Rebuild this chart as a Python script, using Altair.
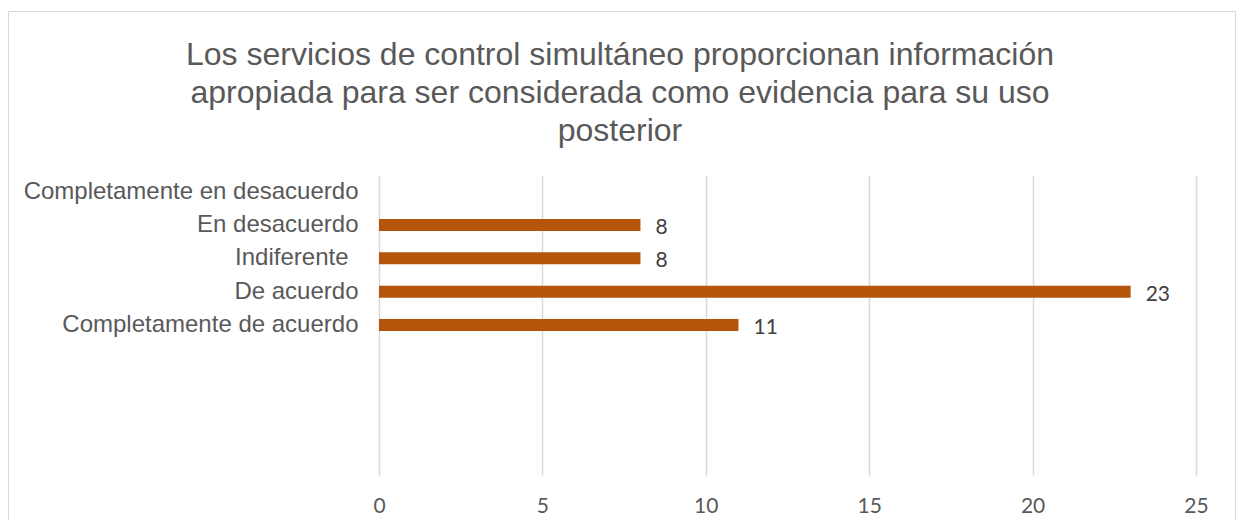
import altair as alt
import pandas as pd

# ---- data ----
categories = [
    "Completamente en desacuerdo",
    "En desacuerdo",
    "Indiferente ",
    "De acuerdo",
    "Completamente de acuerdo",
]
values = [None, 8, 8, 23, 11]
blank_slots = ["_b1", "_b2", "_b3", "_b4"]
x_ticks = [0, 5, 10, 15, 20, 25]
title_lines = [
    "Los servicios de control simultáneo proporcionan información",
    "apropiada para ser considerada como evidencia para su uso",
    "posterior",
]

BAR = "#B5550B"
GRID = "#d9d9d9"
TXT = "#595959"

df = pd.DataFrame({"cat": categories, "val": values})
domain = categories + blank_slots

y_enc = alt.Y(
    "cat:N",
    sort=None,
    scale=alt.Scale(domain=domain, paddingInner=0.64, paddingOuter=0.32),
    axis=alt.Axis(
        title=None,
        labelExpr="indexof(datum.label, '_b') == 0 ? '' : datum.label",
        labelFont="Liberation Sans",
        labelFontSize=24,
        labelColor=TXT,
        labelPadding={
            "condition": {"test": "datum.label == 'Indiferente '", "value": 31},
            "value": 21,
        },
        ticks=False,
        domain=False,
        grid=False,
        labelLimit=0,
    ),
)

x_enc = alt.X(
    "val:Q",
    scale=alt.Scale(domain=[0, 25], nice=False),
    axis=alt.Axis(
        title=None,
        values=x_ticks,
        grid=True,
        gridColor=GRID,
        gridWidth=1.5,
        domain=False,
        ticks=False,
        labelFlush=False,
        labelFont="Lato",
        labelFontSize=21,
        labelColor=TXT,
        labelPadding=20,
    ),
)

one = alt.Data(values=[{"f": 1}])

frame = alt.Chart(one).mark_rect(
    fillOpacity=0, stroke=GRID, strokeWidth=1
).encode(
    x=alt.value(-370.5),
    x2=alt.value(856.5),
    y=alt.value(-163.5),
    y2=alt.value(420),
)

title = alt.Chart(one).mark_text(
    text=title_lines,
    font="Liberation Sans",
    fontSize=32,
    lineHeight=38,
    color=TXT,
    align="center",
    baseline="top",
).encode(x=alt.value(241), y=alt.value(-135.5))

base = alt.Chart(df)
bars = base.mark_bar(color=BAR).encode(x=x_enc, y=y_enc)
labels = base.transform_filter("datum.val != null").mark_text(
    align="left", baseline="middle", dx=15, dy=3,
    font="Lato", fontSize=21, color="#404040",
).encode(x="val:Q", y=alt.Y("cat:N", sort=None), text="val:Q")

chart = alt.layer(frame, title, bars, labels).properties(
    width=817,
    height=300,
    autosize=alt.AutoSizeParams(type="none"),
    padding={"left": 371, "top": 167, "right": 40, "bottom": 45},
    background="white",
).configure_view(stroke=None)

chart.save("out.html", embed_options={"renderer": "svg", "actions": False})
